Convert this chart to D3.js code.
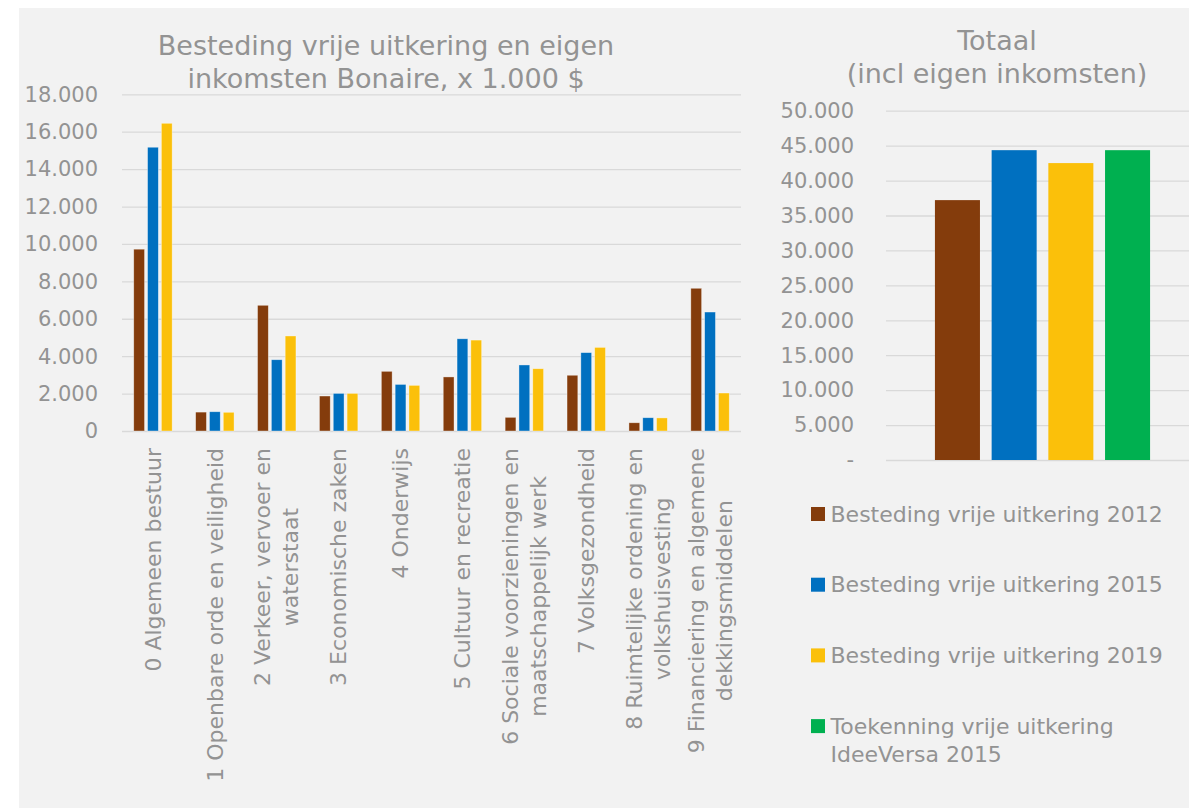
<!DOCTYPE html>
<html>
<head>
<meta charset="utf-8">
<script src="https://cdn.jsdelivr.net/npm/d3@7"></script>
<style>
  body { margin: 0; background: #fff; }
  text { font-family: "DejaVu Sans", Verdana, sans-serif; fill: #939393; }
</style>
</head>
<body>
<div class="chart"></div>
<script>
// categories (lines of each wrapped label)
const categories = [
    ["0 Algemeen bestuur"],
    ["1 Openbare orde en veiligheid"],
    ["2 Verkeer, vervoer en", "waterstaat"],
    ["3 Economische zaken"],
    ["4 Onderwijs"],
    ["5 Cultuur en recreatie"],
    ["6 Sociale voorzieningen en", "maatschappelijk werk"],
    ["7 Volksgezondheid"],
    ["8 Ruimtelijke ordening en", "volkshuisvesting"],
    ["9 Financiering en algemene", "dekkingsmiddelen"]
];
const seriesNames = [
    "Besteding vrije uitkering 2012",
    "Besteding vrije uitkering 2015",
    "Besteding vrije uitkering 2019",
    "Toekenning vrije uitkering IdeeVersa 2015"
];
const values2012 = [9720, 1010, 6720, 1870, 3190, 2890, 730, 2980, 440, 7630];
const values2015 = [15170, 1030, 3810, 2010, 2490, 4930, 3530, 4190, 710, 6360];
const values2019 = [16450, 1000, 5080, 2010, 2440, 4860, 3330, 4470, 700, 2030];
const totals = [37200, 44350, 42500, 44350];
const leftTicks = [0, 2000, 4000, 6000, 8000, 10000, 12000, 14000, 16000, 18000];
const rightTicks = [0, 5000, 10000, 15000, 20000, 25000, 30000, 35000, 40000, 45000, 50000];
const leftTitle = ["Besteding vrije uitkering en eigen", "inkomsten Bonaire, x 1.000 $"];
const rightTitle = ["Totaal", "(incl eigen inkomsten)"];

const colors = ["#843c0c", "#0070c0", "#fbc00a", "#00b050"];
const width = 1189, height = 809;

const nl = d3.formatLocale({decimal: ",", thousands: ".", grouping: [3], currency: ["", "$"]});
const fmt = nl.format(",.0f");

const svg = d3.select(".chart").append("svg")
    .attr("width", width)
    .attr("height", height);

svg.append("rect")
    .attr("x", 19).attr("y", 8)
    .attr("width", width - 19).attr("height", 800)
    .attr("fill", "#f2f2f2");

/* left chart */
const yL = d3.scaleLinear().domain([0, 18000]).range([431, 94.3]);
const xL = d3.scaleBand().domain(d3.range(categories.length)).range([122, 741]);
const x1 = d3.scaleBand().domain([0, 1, 2]).range([0, xL.bandwidth()])
    .paddingInner(0.22).paddingOuter(0.85);

const gridL = svg.append("g")
    .attr("transform", "translate(122,0)")
    .call(d3.axisLeft(yL).tickValues(leftTicks).tickSize(-(741 - 122)).tickFormat(""));
gridL.select(".domain").remove();
gridL.selectAll("line").attr("stroke", "#d9d9d9").attr("stroke-width", 1.3);

svg.append("g")
    .selectAll("text")
    .data(leftTicks).enter()
    .append("text")
    .attr("x", 98)
    .attr("y", d => yL(d))
    .attr("dy", "0.35em")
    .attr("text-anchor", "end")
    .style("font-size", "21px")
    .text(d => fmt(d));

const leftSeries = [values2012, values2015, values2019];
svg.append("g")
    .selectAll("g")
    .data(categories.map((c, i) => i)).enter()
    .append("g")
    .attr("transform", i => `translate(${xL(i)},0)`)
    .selectAll("rect")
    .data(i => leftSeries.map((s, k) => ({k: k, v: s[i]}))).enter()
    .append("rect")
    .attr("x", d => x1(d.k))
    .attr("width", x1.bandwidth())
    .attr("y", d => yL(d.v))
    .attr("height", d => yL(0) - yL(d.v))
    .attr("fill", d => colors[d.k])
    .attr("stroke", "#ffffff")
    .attr("stroke-opacity", 0.5)
    .attr("stroke-width", 0.7);

// rotated category labels, lines centred on each other, block end at top
const lineGap = 28;
const labels = svg.append("g")
    .selectAll("g")
    .data(categories).enter()
    .append("g")
    .attr("transform", (d, i) => `translate(${xL(i) + xL.bandwidth() / 2},448) rotate(-90)`);

labels.each(function(lines) {
    const g = d3.select(this);
    const texts = g.selectAll("text")
        .data(lines).enter()
        .append("text")
        .style("font-size", "22px")
        .attr("text-anchor", "middle")
        .attr("dy", "0.35em")
        .attr("y", (d, j) => (j - (lines.length - 1) / 2) * lineGap)
        .text(d => d);
    let maxW = 0;
    texts.each(function() { maxW = Math.max(maxW, this.getComputedTextLength()); });
    texts.attr("x", -maxW / 2);
});

svg.append("g")
    .selectAll("text")
    .data(leftTitle).enter()
    .append("text")
    .attr("x", 386)
    .attr("y", (d, i) => 55 + i * 33)
    .attr("text-anchor", "middle")
    .style("font-size", "27px")
    .text(d => d);

/* right chart */
const yR = d3.scaleLinear().domain([0, 50000]).range([460, 110.7]);
const xR = d3.scaleBand().domain(d3.range(totals.length)).range([886, 1199])
    .paddingInner(0.206).paddingOuter(0.863);

const gridR = svg.append("g")
    .attr("transform", "translate(886,0)")
    .call(d3.axisLeft(yR).tickValues(rightTicks).tickSize(-(1199 - 886)).tickFormat(""));
gridR.select(".domain").remove();
gridR.selectAll("line").attr("stroke", "#d9d9d9").attr("stroke-width", 1.3);

svg.append("g")
    .selectAll("text")
    .data(rightTicks).enter()
    .append("text")
    .attr("x", 854)
    .attr("y", d => yR(d))
    .attr("dy", "0.35em")
    .attr("text-anchor", "end")
    .style("font-size", "21px")
    .text(d => d === 0 ? "-" : fmt(d));

svg.append("g")
    .selectAll("rect")
    .data(totals).enter()
    .append("rect")
    .attr("x", (d, i) => xR(i))
    .attr("width", xR.bandwidth())
    .attr("y", d => yR(d))
    .attr("height", d => yR(0) - yR(d))
    .attr("fill", (d, i) => colors[i]);

svg.append("g")
    .selectAll("text")
    .data(rightTitle).enter()
    .append("text")
    .attr("x", 997)
    .attr("y", (d, i) => 50 + i * 33)
    .attr("text-anchor", "middle")
    .style("font-size", "27px")
    .text(d => d);

/* legend */
const legendLines = [
    ["Besteding vrije uitkering 2012"],
    ["Besteding vrije uitkering 2015"],
    ["Besteding vrije uitkering 2019"],
    ["Toekenning vrije uitkering", "IdeeVersa 2015"]
];
const legend = svg.append("g")
    .selectAll("g")
    .data(legendLines).enter()
    .append("g")
    .attr("transform", (d, i) => `translate(811,${507 + i * 70.7})`);

legend.append("rect")
    .attr("width", 14).attr("height", 14)
    .attr("fill", (d, i) => colors[i]);

legend.selectAll("text")
    .data(d => d).enter()
    .append("text")
    .attr("x", 19.5)
    .attr("y", (d, j) => 14.5 + j * 28)
    .style("font-size", "22px")
    .text(d => d);
</script>
</body>
</html>
